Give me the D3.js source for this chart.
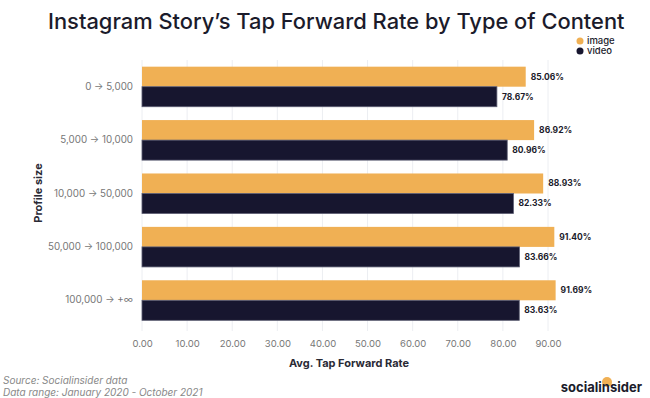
<!DOCTYPE html>
<html>
<head>
<meta charset="utf-8">
<script src="https://cdn.jsdelivr.net/npm/d3@7"></script>
<style>
  body { margin: 0; background: #fff; }
  text { font-family: Inter, "Noto Sans", sans-serif; }
</style>
</head>
<body>
<svg id="chart" width="650" height="398"></svg>
<script>
const categories = ['0 → 5,000', '5,000 → 10,000', '10,000 → 50,000', '50,000 → 100,000', '100,000 → +∞'];
const imageValues = [85.06, 86.92, 88.93, 91.40, 91.69];
const videoValues = [78.67, 80.96, 82.33, 83.66, 83.63];
const seriesNames = ['image', 'video'];
const xTicks = [0, 10, 20, 30, 40, 50, 60, 70, 80, 90];

const colors = {image: '#f0b054', video: '#17162f'};

const svg = d3.select('#chart');
const margin = {left: 142, right: 102, top: 60, bottom: 71};
const width = 650, height = 398;

const rows = categories.map((c, i) => ({cat: c, image: imageValues[i], video: videoValues[i]}));

const x = d3.scaleLinear().domain([0, 90]).range([margin.left, width - margin.right]);
const y = d3.scaleBand().domain(categories).range([margin.top, height - margin.bottom])
  .paddingInner(0.25).paddingOuter(0.125);
const ySub = d3.scaleBand().domain(seriesNames).range([0, y.bandwidth()]);

// title, stretched to the reference width
const title = svg.append('text').attr('x', 48).attr('y', 29)
  .attr('font-family', 'Inter, "Open Sans", sans-serif')
  .attr('font-weight', 500).attr('font-size', 20).attr('fill', '#1b1b2b')
  .text('Instagram Story’s Tap Forward Rate by Type of Content');
const tw = title.node().getComputedTextLength();
title.attr('font-size', 20 * 577 / tw);

// grid
svg.append('g').selectAll('line').data(xTicks).enter().append('line')
  .attr('x1', d => x(d)).attr('x2', d => x(d))
  .attr('y1', margin.top).attr('y2', height - margin.bottom + 4)
  .attr('stroke', '#eceef2').attr('stroke-width', 1);

// x axis
const xAxis = svg.append('g').attr('transform', `translate(0,${height - margin.bottom})`)
  .call(d3.axisBottom(x).tickValues(xTicks).tickFormat(d3.format('.2f')).tickSize(0).tickPadding(13));
xAxis.select('.domain').remove();
xAxis.selectAll('text').attr('font-size', 9.5).attr('fill', '#777').attr('font-family', 'Inter, sans-serif');

// y axis
const yAxis = svg.append('g').attr('transform', `translate(${margin.left},0)`)
  .call(d3.axisLeft(y).tickSize(0).tickPadding(9));
yAxis.select('.domain').remove();
yAxis.selectAll('text').attr('font-size', 9.8).attr('fill', '#777').attr('font-family', 'Inter, sans-serif');

// bars
const groups = svg.append('g').selectAll('g').data(rows).enter().append('g')
  .attr('transform', d => `translate(0,${y(d.cat)})`);

seriesNames.forEach(s => {
  groups.append('rect')
    .attr('x', x(0)).attr('y', ySub(s))
    .attr('width', d => x(d[s]) - x(0)).attr('height', ySub.bandwidth())
    .attr('fill', colors[s])
    .attr('stroke', s === 'video' ? '#5c5d72' : 'none').attr('stroke-width', 0.8);
  groups.append('text')
    .attr('x', d => x(d[s]) + 5).attr('y', ySub(s) + ySub.bandwidth() / 2)
    .attr('dy', '0.35em').attr('font-size', 8.5).attr('font-weight', 700).attr('fill', '#1b1b2b')
    .text(d => d3.format('.2f')(d[s]) + '%');
});

// axis titles
svg.append('text').attr('x', 349).attr('y', 367).attr('text-anchor', 'middle')
  .attr('font-size', 11).attr('font-weight', 700).attr('fill', '#2a2a35')
  .text('Avg. Tap Forward Rate');
svg.append('text').attr('transform', 'translate(42,193) rotate(-90)').attr('text-anchor', 'middle')
  .attr('font-size', 11).attr('font-weight', 700).attr('fill', '#2a2a35')
  .text('Profile size');

// legend
const legend = svg.append('g').attr('transform', 'translate(580,41)');
seriesNames.forEach((s, i) => {
  legend.append('circle').attr('cx', 0).attr('cy', i * 10).attr('r', 3.5).attr('fill', colors[s]);
  legend.append('text').attr('x', 7).attr('y', i * 10).attr('dy', '0.35em')
    .attr('font-size', 9.5).attr('font-weight', 500).attr('fill', '#1b1b2b').text(s);
});

// source
svg.append('text').attr('x', 3).attr('y', 384).attr('font-size', 10).attr('font-style', 'italic')
  .attr('fill', '#888').attr('font-family', '"Open Sans", sans-serif').text('Source: Socialinsider data');
svg.append('text').attr('x', 3).attr('y', 396).attr('font-size', 10).attr('font-style', 'italic')
  .attr('fill', '#888').attr('font-family', '"Open Sans", sans-serif').text('Data range: January 2020 - October 2021');

// logo
svg.append('circle').attr('cx', 607).attr('cy', 382).attr('r', 5).attr('fill', '#f0b054');
svg.append('text').attr('x', 642).attr('y', 392).attr('text-anchor', 'end')
  .attr('font-size', 13).attr('font-weight', 700).attr('fill', '#1b1b2b')
  .attr('font-family', '"Open Sans", sans-serif').text('socialinsider');
</script>
</body>
</html>
